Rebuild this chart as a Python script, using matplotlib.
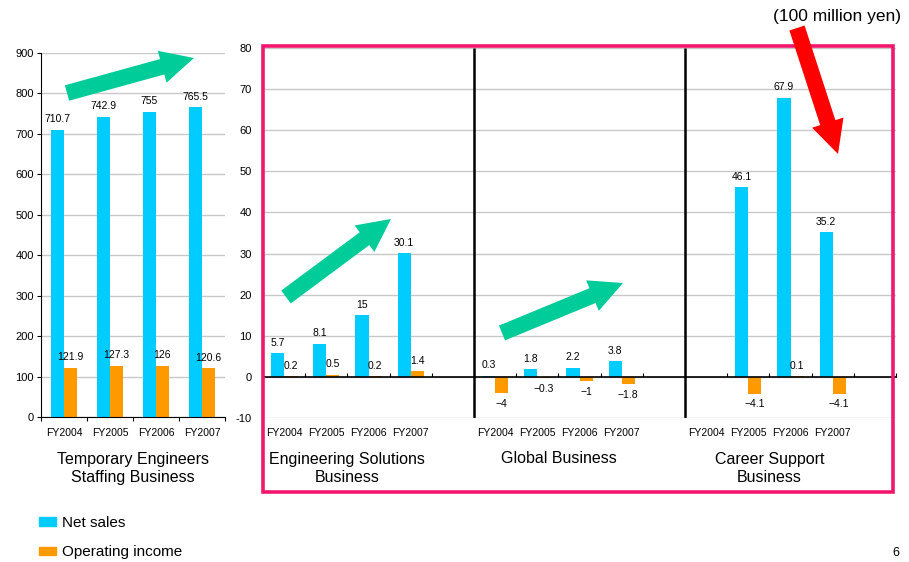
import numpy as np
import matplotlib.pyplot as plt
from matplotlib.patches import FancyArrow, Patch, Rectangle

plt.rcParams['font.family'] = ['Liberation Sans', 'DejaVu Sans']

years = ["FY2004", "FY2005", "FY2006", "FY2007"]

# Temporary Engineers Staffing Business (own scale)
staffing_sales = [710.7, 742.9, 755, 765.5]
staffing_income = [121.9, 127.3, 126, 120.6]

# the three smaller businesses share one scale
es_sales = [5.7, 8.1, 15, 30.1]
es_income = [0.2, 0.5, 0.2, 1.4]
global_sales = [0.3, 1.8, 2.2, 3.8]
global_income = [-4, -0.3, -1, -1.8]
career_sales = [np.nan, 46.1, 67.9, 35.2]
career_income = [np.nan, -4.1, 0.1, -4.1]

business_names = ["Engineering Solutions\nBusiness", "Global Business",
                  "Career Support\nBusiness"]

BLUE = "#00CCFF"
ORANGE = "#FF9900"
GREEN = "#00CC99"
PINK = "#F2166C"
GRID = "#C8C8C8"


def fmt(v):
    return f"{v:g}".replace("-", "\u2212")


def label_bars(ax, bars, vals):
    for b, v in zip(bars, vals):
        if np.isnan(v):
            continue
        x = b.get_x() + b.get_width() / 2
        up = v >= 0
        ax.annotate(fmt(v), (x, v), xytext=(0, 4 if up else -4),
                    textcoords="offset points", ha="center",
                    va="bottom" if up else "top", fontsize=7.5)


def category_labels(ax, xs, offset):
    for x, yr in zip(xs, years):
        ax.annotate(yr, (x, 0), xycoords=("data", "axes fraction"),
                    xytext=(0, offset), textcoords="offset points",
                    ha="center", va="center", fontsize=7.5)


def group_title(ax, x, text, offset):
    ax.annotate(text, (x, 0), xycoords=("data", "axes fraction"),
                xytext=(0, offset), textcoords="offset points",
                ha="center", va="center", fontsize=11.5, linespacing=1.2)


fig = plt.figure(figsize=(9.09, 5.62), dpi=100)

# --- left panel ---
ax1 = fig.add_axes([41 / 909, 1 - 417 / 562, 184 / 909, 364 / 562])
w = 0.28
x = np.arange(len(years))
b = ax1.bar(x - w / 2, staffing_sales, w, color=BLUE)
label_bars(ax1, b, staffing_sales)
b = ax1.bar(x + w / 2, staffing_income, w, color=ORANGE)
label_bars(ax1, b, staffing_income)
ax1.set_xlim(-0.5, 3.5)
ax1.set_ylim(0, 900)
ax1.set_yticks(range(0, 901, 100))
ax1.set_xticks(np.arange(-0.5, 4))
ax1.set_xticklabels([])
ax1.tick_params(axis="x", length=3, direction="out")
ax1.tick_params(axis="y", length=3, direction="out", labelsize=8, pad=2)
ax1.grid(axis="y", color=GRID, lw=1)
ax1.set_axisbelow(True)
for s in ["top", "right"]:
    ax1.spines[s].set_visible(False)
for s in ["left", "bottom"]:
    ax1.spines[s].set_color("black")
category_labels(ax1, x, -11.5)
group_title(ax1, 1.5, "Temporary Engineers\nStaffing Business", -37)

# --- right panel: three businesses, 5 slots each ---
ax2 = fig.add_axes([263 / 909, 1 - 418 / 562, 633 / 909, 370 / 562])
w = 0.31
groups = [(es_sales, es_income), (global_sales, global_income),
          (career_sales, career_income)]
for g, (sales, income) in enumerate(groups):
    xs = 5 * g + np.arange(len(years))
    b = ax2.bar(xs - w / 2, sales, w, color=BLUE)
    label_bars(ax2, b, sales)
    b = ax2.bar(xs + w / 2, income, w, color=ORANGE)
    label_bars(ax2, b, income)
    category_labels(ax2, xs, -11)
    title_off = -36.5 if "\n" in business_names[g] else -29.5
    group_title(ax2, xs.mean(), business_names[g], title_off)

ax2.set_xlim(-0.5, 14.5)
ax2.set_ylim(-10, 80)
ax2.set_yticks(range(-10, 81, 10))
ax2.set_yticklabels([str(v) for v in range(-10, 81, 10)])
ax2.set_xticks(np.arange(-0.5, 15))
ax2.set_xticklabels([])
ax2.tick_params(axis="x", length=3, direction="in")
ax2.tick_params(axis="y", length=0, labelsize=8, pad=8)
ax2.grid(axis="y", color=GRID, lw=1)
ax2.set_axisbelow(True)
for s in ["top", "right", "left"]:
    ax2.spines[s].set_visible(False)
ax2.spines["bottom"].set_position(("data", 0))
ax2.spines["bottom"].set_color("black")
ax2.spines["bottom"].set_linewidth(1.2)
ax2.vlines([4.5, 9.5], -10, 80, colors="black", lw=1.8)

# frame round the three smaller businesses
fig.add_artist(Rectangle((2.63, 0.70), 6.30, 4.46, transform=fig.dpi_scale_trans,
                         fill=False, ec=PINK, lw=2.6))

# trend arrows
arrows = [
    ((0.67, 4.69), (1.27, 0.35), GREEN),
    ((2.86, 2.65), (1.05, 0.78), GREEN),
    ((5.02, 2.29), (1.21, 0.50), GREEN),
    ((7.97, 5.34), (0.41, -1.26), "#FF0000"),
]
for (x0, y0), (dx, dy), c in arrows:
    fig.add_artist(FancyArrow(x0, y0, dx, dy, width=0.16, head_width=0.33,
                              head_length=0.33, length_includes_head=True,
                              transform=fig.dpi_scale_trans, color=c, lw=0))

fig.legend(handles=[Patch(color=BLUE, label="Net sales"),
                    Patch(color=ORANGE, label="Operating income")],
           loc="upper left", bbox_to_anchor=(39 / 909, 1 - 516 / 562),
           frameon=False, fontsize=11, handlelength=1.1, handleheight=0.5,
           handletextpad=0.4, labelspacing=1.0, borderpad=0, borderaxespad=0)

fig.text(837 / 909, 1 - 17 / 562, "(100 million yen)", ha="center",
         va="center", fontsize=12.5)
fig.text(896 / 909, 1 - 553 / 562, "6", ha="center", va="center", fontsize=9)

fig.savefig("out.png", dpi=100)
